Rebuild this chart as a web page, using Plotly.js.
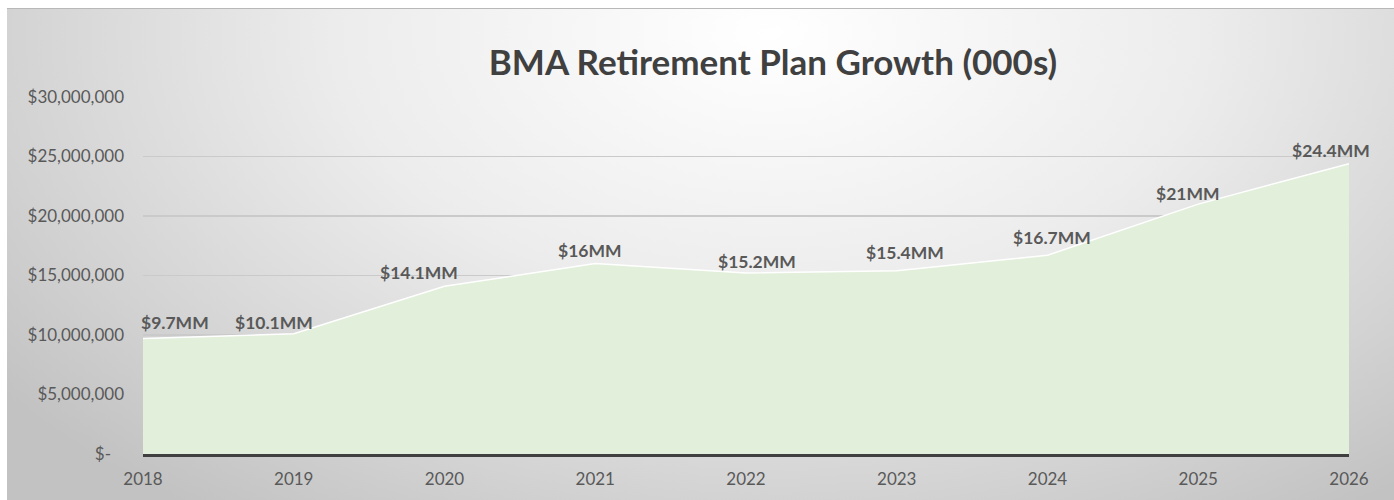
<!DOCTYPE html>
<html>
<head>
<meta charset="utf-8">
<script src="https://cdn.plot.ly/plotly-3.0.1.min.js"></script>
<style>
  html, body { margin: 0; padding: 0; background: #ffffff; }
  #wrap { position: relative; width: 1394px; height: 500px; overflow: hidden; }
  #bg {
    position: absolute; left: 7px; top: 8px; right: 0; bottom: 0;
    border-top: 1px solid #b8b8b8;
    background: radial-gradient(ellipse 70% 120% at 55% 5%, #ffffff 0%, #ececec 45%, #d2d2d2 80%, #c2c2c2 100%);
  }
  #chart { position: absolute; left: 0; top: 0; width: 1394px; height: 500px; }
</style>
</head>
<body>
<div id="wrap">
  <div id="bg"></div>
  <div id="chart"></div>
</div>
<script>
// Data
const years = [2018, 2019, 2020, 2021, 2022, 2023, 2024, 2025, 2026];
const planValues = [9700000, 10100000, 14100000, 16000000, 15200000, 15400000, 16700000, 21000000, 24400000];
const valueLabels = ['$9.7MM', '$10.1MM', '$14.1MM', '$16MM', '$15.2MM', '$15.4MM', '$16.7MM', '$21MM', '$24.4MM'];
const yTickVals = [0, 5000000, 10000000, 15000000, 20000000, 25000000, 30000000];
const yTickText = ['$-\u00a0\u00a0\u00a0', '$5,000,000', '$10,000,000', '$15,000,000', '$20,000,000', '$25,000,000', '$30,000,000'];

// Label placement (style only, pixel offsets from each point)
const labelDx = [32, -20, -26, -5, 11, 8, 4, -10, -18];
const labelDy = [16, 11, 14, 13, 12, 18, 18, 11, 13];

const trace = {
  x: years,
  y: planValues,
  type: 'scatter',
  mode: 'lines',
  fill: 'tozeroy',
  fillcolor: '#E2EFDA',
  line: { color: '#ffffff', width: 1.5 },
  hoverinfo: 'skip'
};

const annotations = years.map((yr, i) => ({
  x: yr, y: planValues[i], xref: 'x', yref: 'y',
  text: valueLabels[i], showarrow: false,
  xanchor: 'center', yanchor: 'middle',
  xshift: labelDx[i], yshift: labelDy[i],
  font: { family: 'Lato, "Open Sans", sans-serif', size: 17.5, color: '#595959', weight: 'bold' }
}));

const layout = {
  width: 1394, height: 500,
  paper_bgcolor: 'rgba(0,0,0,0)',
  plot_bgcolor: 'rgba(0,0,0,0)',
  margin: { l: 143, r: 45, t: 97, b: 46 },
  showlegend: false,
  title: {
    text: '<b>BMA Retirement Plan Growth (000s)</b>',
    x: 0.5545, xanchor: 'center', y: 0.875, yanchor: 'middle',
    font: { family: 'Lato, "Open Sans", sans-serif', size: 35, color: '#404040' }
  },
  xaxis: {
    range: [2018, 2026],
    tickvals: years,
    ticktext: years.map(String),
    showgrid: false, zeroline: false,
    showline: true, linecolor: '#404040', linewidth: 3,
    ticks: '', ticklabelstandoff: 8,
    tickfont: { family: 'Lato, "Open Sans", sans-serif', size: 17, color: '#595959' },
    fixedrange: true
  },
  yaxis: {
    range: [0, 30000000],
    tickvals: yTickVals,
    ticktext: yTickText,
    showgrid: true, gridcolor: '#cacaca', gridwidth: 1.5,
    zeroline: false, showline: false,
    ticks: '', ticklabelstandoff: 18,
    tickfont: { family: 'Lato, "Open Sans", sans-serif', size: 17, color: '#595959' },
    fixedrange: true
  },
  annotations: annotations
};

Plotly.newPlot('chart', [trace], layout, { displayModeBar: false, staticPlot: true });
</script>
</body>
</html>
